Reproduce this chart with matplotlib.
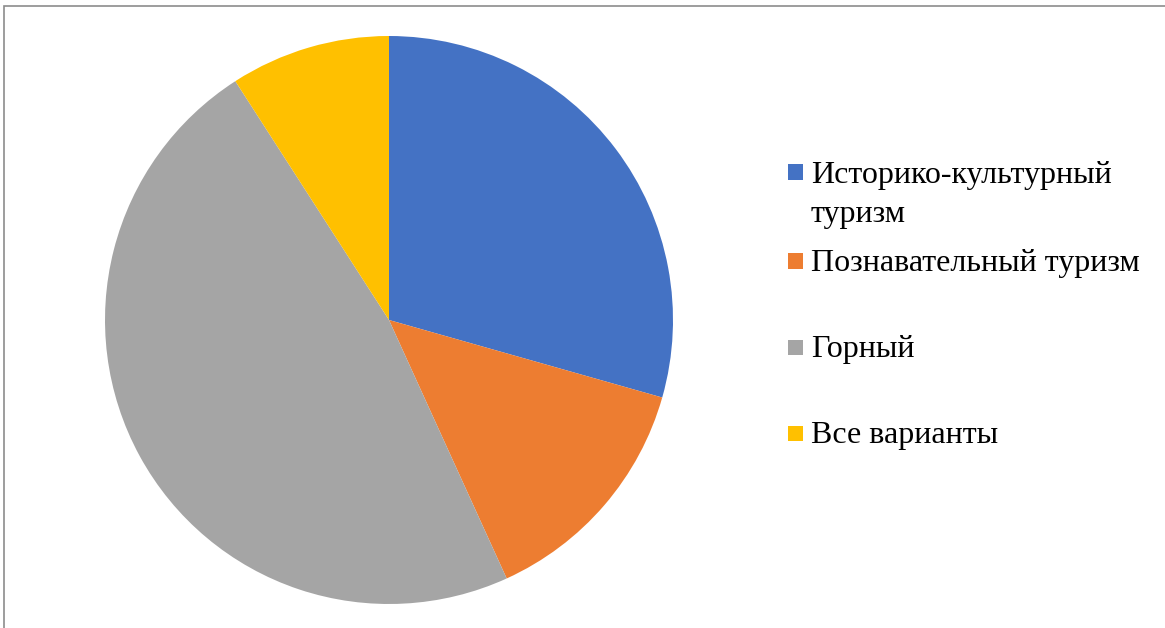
import matplotlib.pyplot as plt
from matplotlib.patches import Rectangle

# Types of tourism and their shares (%)
labels = ['Историко-культурный\nтуризм', 'Познавательный туризм', 'Горный', 'Все варианты']
shares = [29.4, 13.8, 47.7, 9.1]
colors = ['#4472C4', '#ED7D31', '#A5A5A5', '#FFC000']

W, H = 1165, 628
fig = plt.figure(figsize=(W / 100, H / 100), dpi=100, facecolor='white')
plt.rcParams['font.family'] = ['Liberation Serif', 'DejaVu Serif']

# pie centered at (389, 320) px, radius 284 px
cx, cy, r = 389, 320, 284
ax = fig.add_axes([(cx - r) / W, (H - cy - r) / H, 2 * r / W, 2 * r / H])
ax.pie(shares, colors=colors, startangle=90, counterclock=False, radius=1,
       wedgeprops=dict(linewidth=0))
ax.set_xlim(-1, 1)
ax.set_ylim(-1, 1)
ax.set_aspect('equal')
ax.axis('off')

# legend: square marker next to the first line of each label
rows_y = [172, 261, 347, 433]
line_gap = 40
for lab, col, y in zip(labels, colors, rows_y):
    fig.patches.append(Rectangle((788 / W, (H - y - 7.5) / H), 15 / W, 15 / H,
                                 transform=fig.transFigure, facecolor=col, edgecolor='none'))
    for k, line in enumerate(lab.split('\n')):
        fig.text(811 / W, (H - y - 10.5 - k * line_gap) / H, line, fontsize=23,
                 va='baseline', ha='left', color='black')

# thin chart frame (only top/left visible in the crop)
fig.patches.append(Rectangle((4 / W, -0.1), 1.2, (H - 6) / H + 0.1, transform=fig.transFigure,
                             facecolor='none', edgecolor='#8c8c8c', linewidth=1.2))

fig.savefig('out.png', dpi=100)
